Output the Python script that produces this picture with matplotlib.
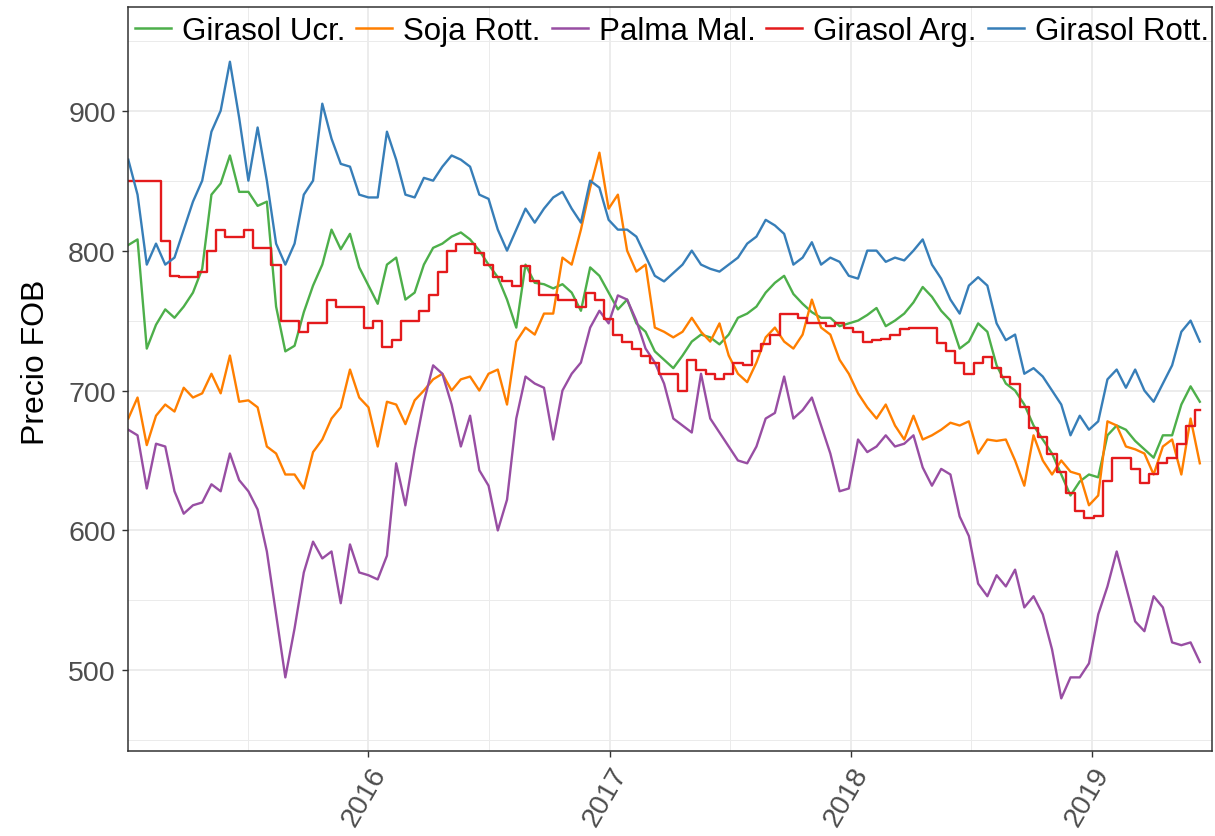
import numpy as np
import pandas as pd
import matplotlib
matplotlib.use("Agg")
import matplotlib.pyplot as plt
import matplotlib.dates as mdates

plt.rcParams['font.family'] = ['Liberation Sans', 'DejaVu Sans']

# ---- data (biweekly readings, FOB prices) ----
dates = pd.date_range("2015-01-02", periods=117, freq="14D")

girasol_ucr = [804, 808, 730, 747, 758, 752, 760, 770, 787, 840, 848, 868, 842, 842, 832, 835, 760, 728, 732, 756,
               775, 790, 815, 801, 812, 788, 775, 762, 790, 795, 765, 770, 790, 802, 805, 810, 813, 808, 800, 790,
               781, 765, 745, 790, 777, 776, 773, 776, 770, 757, 788, 782, 770, 758, 765, 748, 742, 728, 722, 716,
               725, 735, 740, 738, 733, 740, 752, 755, 760, 770, 777, 782, 769, 762, 756, 752, 752, 746, 748, 750,
               754, 759, 746, 750, 755, 763, 774, 767, 757, 750, 730, 735, 748, 742, 718, 705, 700, 690, 675, 665,
               655, 640, 625, 635, 640, 638, 668, 675, 672, 664, 658, 652, 668, 668, 690, 703, 692]

soja_rott = [680, 695, 661, 682, 690, 685, 702, 695, 698, 712, 698, 725, 692, 693, 688, 660, 655, 640, 640, 630,
             656, 665, 680, 688, 715, 695, 688, 660, 692, 690, 676, 693, 700, 708, 712, 700, 708, 710, 700, 712,
             715, 690, 735, 745, 740, 755, 755, 795, 790, 815, 845, 870, 830, 840, 800, 785, 790, 745, 742, 738,
             742, 752, 742, 735, 748, 725, 712, 706, 720, 738, 745, 735, 730, 740, 765, 745, 740, 722, 712, 698,
             688, 680, 690, 675, 665, 682, 665, 668, 672, 677, 675, 678, 655, 665, 664, 665, 650, 632, 668, 650,
             640, 650, 642, 640, 618, 625, 678, 675, 660, 658, 655, 640, 660, 665, 640, 680, 648]

palma_mal = [672, 668, 630, 662, 660, 628, 612, 618, 620, 633, 628, 655, 636, 628, 615, 585, 540, 495, 530, 570,
             592, 580, 585, 548, 590, 570, 568, 565, 582, 648, 618, 658, 692, 718, 712, 690, 660, 682, 643, 632,
             600, 622, 680, 710, 705, 702, 665, 700, 712, 720, 745, 757, 748, 768, 765, 750, 730, 720, 705, 680,
             675, 670, 712, 680, 670, 660, 650, 648, 660, 680, 684, 710, 680, 686, 695, 675, 655, 628, 630, 665,
             656, 660, 668, 660, 662, 668, 645, 632, 644, 640, 610, 596, 562, 553, 568, 560, 572, 545, 553, 540,
             515, 480, 495, 495, 505, 540, 560, 585, 560, 535, 528, 553, 545, 520, 518, 520, 506]

girasol_arg = [850, 850, 850, 850, 807, 782, 781, 781, 785, 800, 815, 810, 810, 815, 802, 802, 790, 750, 750, 742,
               748, 748, 765, 760, 760, 760, 745, 750, 731, 736, 750, 750, 757, 768, 785, 800, 805, 805, 798, 790,
               781, 778, 775, 789, 778, 768, 768, 765, 765, 760, 770, 765, 751, 740, 735, 730, 725, 720, 712, 712,
               700, 722, 715, 712, 708, 712, 720, 718, 728, 733, 740, 755, 755, 752, 748, 748, 746, 748, 745, 742,
               735, 736, 737, 740, 744, 745, 745, 745, 734, 728, 720, 712, 720, 724, 716, 710, 705, 688, 673, 667,
               655, 642, 627, 614, 609, 610, 635, 652, 652, 644, 634, 640, 648, 652, 662, 675, 686]

girasol_rott = [865, 840, 790, 805, 790, 795, 815, 835, 850, 885, 900, 935, 895, 850, 888, 850, 805, 790, 805, 840,
                850, 905, 880, 862, 860, 840, 838, 838, 885, 865, 840, 838, 852, 850, 860, 868, 865, 860, 840, 837,
                815, 800, 815, 830, 820, 830, 838, 842, 830, 820, 850, 845, 822, 815, 815, 810, 796, 782, 778, 784,
                790, 800, 790, 787, 785, 790, 795, 805, 810, 822, 818, 812, 790, 795, 806, 790, 795, 792, 782, 780,
                800, 800, 792, 795, 793, 800, 808, 790, 780, 765, 755, 775, 781, 775, 748, 736, 740, 712, 716, 710,
                700, 690, 668, 682, 672, 678, 708, 715, 702, 715, 700, 692, 705, 718, 742, 750, 735]

series_names = ["Girasol Ucr.", "Soja Rott.", "Palma Mal.", "Girasol Arg.", "Girasol Rott."]
series_values = [girasol_ucr, soja_rott, palma_mal, girasol_arg, girasol_rott]
series_colors = ["#4DAF4A", "#FF7F00", "#984EA3", "#E41A1C", "#377EB8"]
series_steps = ["default", "default", "default", "steps-mid", "default"]

# ---- figure ----
W, H = 1215, 837
fig = plt.figure(figsize=(W / 100, H / 100), dpi=100)
x0, x1, y0, y1 = 128.3, 1211.7, 8.3, 751.7
ax = fig.add_axes([x0 / W, 1 - y1 / H, (x1 - x0) / W, (y1 - y0) / H])

for name, vals, col, ds in zip(series_names, series_values, series_colors, series_steps):
    ax.plot(dates, vals, color=col, lw=1.7, label=name, drawstyle=ds)

ax.set_xlim(pd.Timestamp("2015-01-02"), pd.Timestamp("2019-06-20"))
ax.set_ylim(442.6, 973.9)

ax.set_yticks([500, 600, 700, 800, 900])
ax.set_yticks([450, 550, 650, 750, 850, 950], minor=True)
ax.xaxis.set_major_locator(mdates.YearLocator())
ax.xaxis.set_major_formatter(mdates.DateFormatter("%Y"))
ax.set_xticks([mdates.date2num(pd.Timestamp(d)) for d in
               ["2015-07-02", "2016-07-02", "2017-07-02", "2018-07-02", "2019-07-02"]], minor=True)

ax.grid(which='major', color='#EBEBEB', lw=1.3)
ax.grid(which='minor', color='#EBEBEB', lw=0.7)
ax.set_axisbelow(True)
ax.tick_params(which='minor', length=0)
ax.tick_params(which='major', length=4, width=1, color='#333333', labelcolor='#4D4D4D',
               labelsize=20.5)
ax.tick_params(axis='y', pad=5)
ax.tick_params(axis='x', pad=4)
for lab in ax.get_xticklabels():
    lab.set_rotation(60)
    lab.set_ha('right')
    lab.set_va('top')
    lab.set_rotation_mode('anchor')
for sp in ax.spines.values():
    sp.set_color('#333333')
    sp.set_linewidth(1.1)

fig.text(36 / W, 1 - 362 / H, "Precio FOB", rotation=90, ha='center', va='center',
         fontsize=23, color='black')

leg = ax.legend(loc='center', bbox_to_anchor=(672 / W, 1 - 32 / H), bbox_transform=fig.transFigure,
                ncol=5, frameon=False, fontsize=22.5, handlelength=1.15, handletextpad=0.35,
                columnspacing=0.35, borderaxespad=0, borderpad=0)
for h in leg.get_lines():
    h.set_linewidth(1.8)

fig.savefig("out.png", dpi=100)
